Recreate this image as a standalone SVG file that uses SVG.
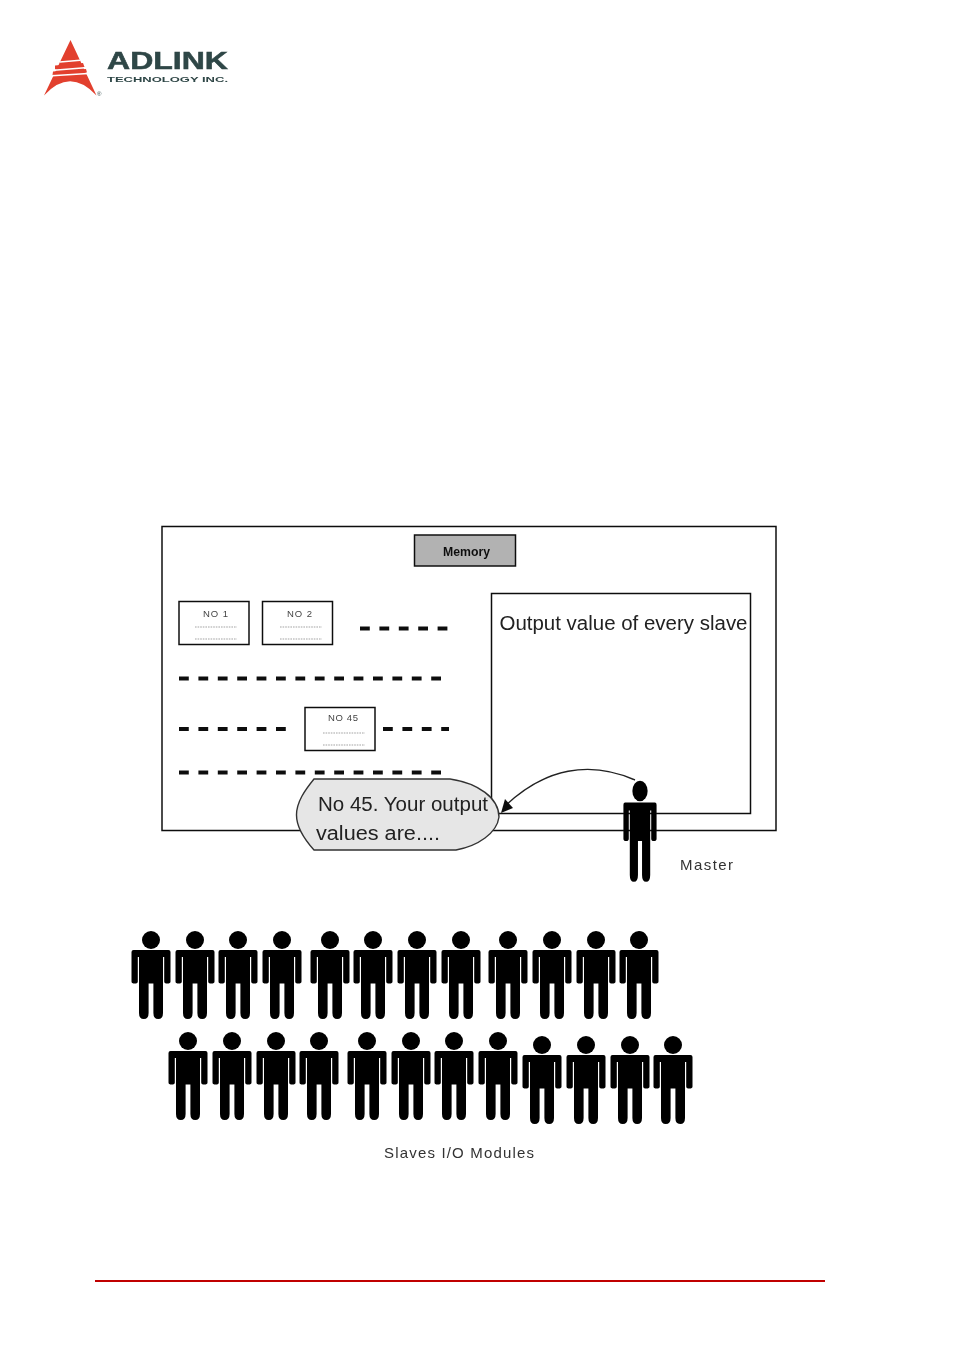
<svg xmlns="http://www.w3.org/2000/svg" width="954" height="1351" viewBox="0 0 954 1351">
<style>
text{font-family:"Liberation Sans",Arial,sans-serif;fill:#111}
.box{fill:#fff;stroke:#111;stroke-width:1.5}
.dash{fill:none;stroke:#111;stroke-width:3.8;stroke-dasharray:9.8 9.6}
.dot{fill:none;stroke:#999;stroke-width:.9;stroke-dasharray:1.6 1}
.no{font-size:9.500px;fill:#444}
.lab{font-size:15px;fill:#333}
.big{font-size:20px;fill:#222}
.soft{filter:url(#soft)}
</style>
<defs>
<filter id="soft" x="-5%" y="-5%" width="110%" height="110%"><feGaussianBlur stdDeviation="0.45"/></filter>
<g id="person">
<ellipse cx="0" cy="0" rx="9" ry="9"/>
<path d="M-17.500 10H17.500Q19.500 10 19.500 12V41.500Q19.500 43.500 16.300 43.500Q13.200 43.500 13.200 41.500V17H12V73Q12 79 7.200 79Q2.400 79 2.400 73V43.500H-2.400V73Q-2.400 79 -7.200 79Q-12 79 -12 73V17H-13.200V41.500Q-13.200 43.500 -16.300 43.500Q-19.500 43.500 -19.500 41.500V12Q-19.500 10 -17.500 10Z"/>
</g>
</defs>
<g id="logo" class="soft">
<path d="M70.500 40L44 95.500Q70 67 96.500 95.500Z" fill="#e2402f"/>
<path d="M55 65.500L83 63L84.500 67L55 69.500ZM53 71.500L86 69L87 72.500L52.500 75Z" fill="#e2402f"/>
<path d="M60 62L80 60.300M54 70.300L85 67.800M52 75.800L88 73.500" fill="none" stroke="#fff" stroke-width="1.500"/>
<text x="107" y="69.300" font-size="23" font-weight="700" textLength="121" lengthAdjust="spacingAndGlyphs" style="fill:#2f4646;stroke:#2f4646;stroke-width:.5">ADLINK</text>
<text x="107" y="81.500" font-size="8" font-weight="700" textLength="121" lengthAdjust="spacingAndGlyphs" style="fill:#2f4646">TECHNOLOGY INC.</text>
<text x="97" y="95.500" font-size="6" style="fill:#2f4646">®</text>
</g>
<rect id="footer-rule" x="95" y="1280" width="730" height="2" fill="#c00000"/>
<g id="figure" class="soft">
<g id="memory-frame"><rect class="box" x="162" y="526.500" width="614" height="304"/></g>
<g id="memory"><rect x="414.500" y="535" width="101" height="31" fill="#b2b2b2" stroke="#111" stroke-width="1.500"/>
<text x="443" y="556" font-size="13" font-weight="700" textLength="47" lengthAdjust="spacingAndGlyphs">Memory</text></g>
<g id="no1"><rect class="box" x="179" y="601.500" width="70" height="43"/><text class="no" x="203" y="616.500" textLength="25">NO 1</text>
<path class="dot" d="M195 627H237M195 639H237"/></g>
<g id="no2"><rect class="box" x="262.500" y="601.500" width="70" height="43"/><text class="no" x="287" y="616.500" textLength="25">NO 2</text>
<path class="dot" d="M280 627H322M280 639H322"/></g>
<g id="no45"><rect class="box" x="305" y="707.500" width="70" height="43"/><text class="no" x="328" y="720.500" textLength="30">NO 45</text>
<path class="dot" d="M323 733H365M323 745H365"/></g>
<g id="separators">
<path class="dash" d="M360 628.500H449"/>
<path class="dash" d="M179 678.500H442"/>
<path class="dash" d="M179 729H287"/>
<path class="dash" d="M383 729H449"/>
<path class="dash" d="M179 772.500H442"/>
</g>
<g id="output-box"><rect class="box" x="491.500" y="593.500" width="259" height="220"/>
<text class="big" x="499.500" y="630" textLength="248" lengthAdjust="spacingAndGlyphs">Output value of every slave</text></g>
<g id="bubble"><path d="M314 779H450C478 783 499 798 499 817C497 833 478 846 456 850H314C305 840 296.500 828 296.500 815C296.500 802 305 790 314 779Z" fill="#e6e6e6" stroke="#333" stroke-width="1.400"/>
<text class="big" x="318" y="811" textLength="170" lengthAdjust="spacingAndGlyphs">No 45. Your output</text>
<text class="big" x="316" y="840" textLength="124" lengthAdjust="spacingAndGlyphs">values are....</text></g>
<g id="connectors">
<path d="M635 780C590 760 545 768 505 806" fill="none" stroke="#222" stroke-width="1.400"/>
<path d="M501 813L505 799L513 808Z" fill="#111"/>
</g>
<g id="master"><use href="#person" transform="translate(640 791) scale(.85 1.15)"/><text class="lab" x="680" y="870" textLength="53">Master</text></g>
<g id="slaves-row-1">
<use href="#person" x="151" y="940"/><use href="#person" x="195" y="940"/><use href="#person" x="238" y="940"/><use href="#person" x="282" y="940"/>
<use href="#person" x="330" y="940"/><use href="#person" x="373" y="940"/><use href="#person" x="417" y="940"/><use href="#person" x="461" y="940"/>
<use href="#person" x="508" y="940"/><use href="#person" x="552" y="940"/><use href="#person" x="596" y="940"/><use href="#person" x="639" y="940"/>
</g>
<g id="slaves-row-2">
<use href="#person" x="188" y="1041"/><use href="#person" x="232" y="1041"/><use href="#person" x="276" y="1041"/><use href="#person" x="319" y="1041"/>
<use href="#person" x="367" y="1041"/><use href="#person" x="411" y="1041"/><use href="#person" x="454" y="1041"/><use href="#person" x="498" y="1041"/>
<use href="#person" x="542" y="1045"/><use href="#person" x="586" y="1045"/><use href="#person" x="630" y="1045"/><use href="#person" x="673" y="1045"/>
</g>
<text id="slaves-label" class="lab" x="384" y="1158" textLength="150">Slaves I/O Modules</text>
</g>
</svg>
